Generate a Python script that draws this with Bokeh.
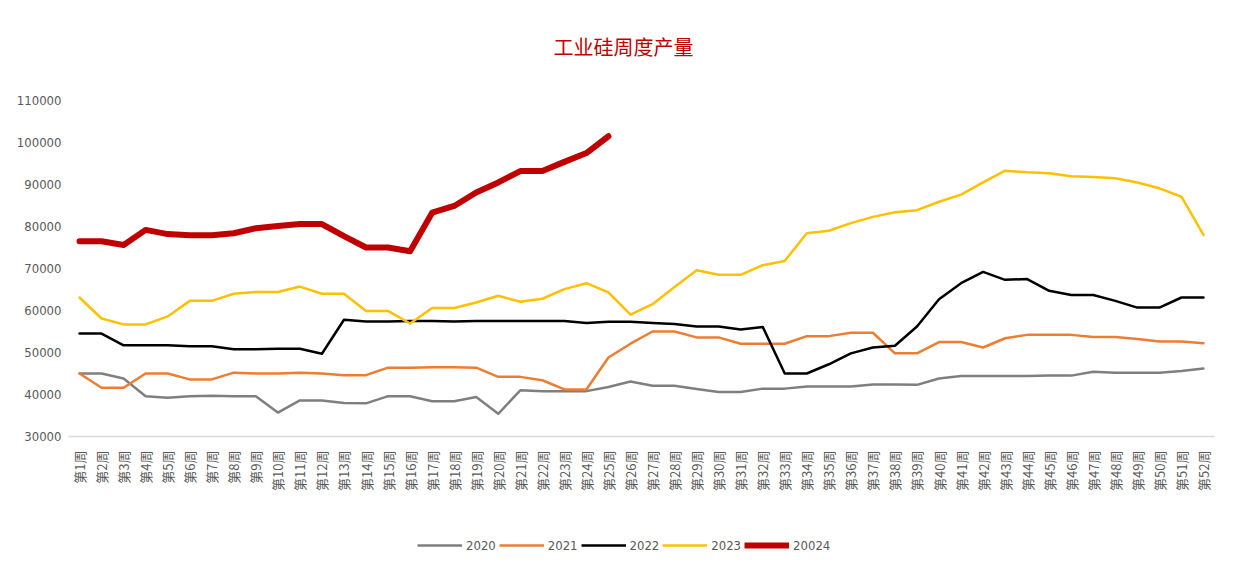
import math
from bokeh.plotting import figure
from bokeh.layouts import column
from bokeh.models import (FactorRange, Range1d, FixedTicker, Legend, LegendItem,
                          NumeralTickFormatter, Label)
from bokeh.embed import file_html
from bokeh.resources import INLINE

weeks = [f"第{i}周" for i in range(1, 53)]

y2020 = [45000, 45000, 43800, 39600, 39200, 39600, 39700, 39600, 39600, 35700,
         38600, 38600, 38000, 37900, 39600, 39600, 38400, 38400, 39400, 35400,
         41000, 40800, 40800, 40800, 41800, 43100, 42100, 42100, 41300, 40600,
         40600, 41400, 41400, 41900, 41900, 41900, 42400, 42400, 42300, 43800,
         44400, 44400, 44400, 44400, 44500, 44500, 45400, 45200, 45200, 45200,
         45600, 46200]
y2021 = [45000, 41600, 41600, 45000, 45000, 43600, 43600, 45200, 45000, 45000,
         45200, 45000, 44600, 44600, 46400, 46400, 46500, 46500, 46400, 44200,
         44200, 43400, 41200, 41200, 48800, 52100, 55000, 55000, 53600, 53600,
         52100, 52100, 52100, 53900, 53900, 54700, 54700, 49800, 49800, 52500,
         52500, 51200, 53400, 54200, 54200, 54200, 53700, 53700, 53200, 52600,
         52600, 52200]
y2022 = [54500, 54500, 51700, 51700, 51700, 51500, 51500, 50800, 50800, 50900,
         50900, 49700, 57800, 57400, 57400, 57500, 57500, 57400, 57500, 57500,
         57500, 57500, 57500, 57000, 57300, 57300, 57000, 56800, 56200, 56200,
         55500, 56100, 45000, 45000, 47200, 49800, 51200, 51600, 56200, 62700,
         66500, 69200, 67300, 67500, 64700, 63700, 63700, 62300, 60700, 60700,
         63100, 63100]
y2023 = [63100, 58100, 56700, 56700, 58600, 62300, 62300, 64000, 64400, 64400,
         65700, 64000, 64000, 59900, 59900, 56900, 60600, 60600, 61900, 63500,
         62100, 62800, 65100, 66500, 64300, 59000, 61500, 65600, 69600, 68500,
         68500, 70800, 71800, 78400, 79000, 80800, 82300, 83400, 83900, 85900,
         87600, 90500, 93300, 92900, 92700, 92000, 91800, 91500, 90500, 89100,
         87100, 78000]
y2024 = [76500, 76500, 75600, 79200, 78200, 77900, 77900, 78400, 79600, 80100,
         80600, 80600, 77700, 75000, 75000, 74100, 83300, 84900, 88100, 90500,
         93200, 93200, 95400, 97500, 101500]

series_names = ["2020", "2021", "2022", "2023", "20024"]
series_values = [y2020, y2021, y2022, y2023, y2024]
series_colors = ["#7f7f7f", "#ed7d31", "#000000", "#ffc000", "#c00000"]
series_widths = [2.5, 2.5, 2.5, 2.5, 6]
y_ticks = list(range(30000, 110001, 10000))
title_text = "工业硅周度产量"

# main chart: frame extends above the 110000 tick to host the title
p = figure(width=1219, height=505, x_range=FactorRange(*weeks, range_padding=0),
           y_range=Range1d(30000, 129300), output_backend="svg",
           toolbar_location=None, min_border_left=68, min_border_right=5,
           min_border_top=19, min_border_bottom=69)

p.outline_line_color = None
p.xgrid.grid_line_color = None
p.ygrid.grid_line_color = None

p.yaxis.ticker = FixedTicker(ticks=y_ticks)
p.yaxis.formatter = NumeralTickFormatter(format="0")
p.yaxis.axis_line_color = None
p.yaxis.major_tick_line_color = None
p.yaxis.minor_tick_line_color = None
p.yaxis.major_tick_out = 0
p.yaxis.major_tick_in = 0
p.yaxis.major_label_text_color = "#595959"
p.yaxis.major_label_text_font = "DejaVu Sans Condensed"
p.yaxis.major_label_text_font_size = "13px"
p.yaxis.major_label_standoff = 7

p.xaxis.axis_line_color = "#d9d9d9"
p.xaxis.axis_line_width = 1.5
p.xaxis.major_tick_line_color = None
p.xaxis.minor_tick_line_color = None
p.xaxis.major_label_orientation = math.pi / 2
p.xaxis.major_label_text_color = "#595959"
p.xaxis.major_label_text_font = "Noto Sans CJK SC"
p.xaxis.major_label_text_font_size = "13px"
p.xaxis.major_label_standoff = 8

for name, vals, col, w in zip(series_names, series_values, series_colors, series_widths):
    p.line(weeks[:len(vals)], vals, line_color=col, line_width=w,
           line_join="round", line_cap="round")

title = Label(x=555, y=390, x_units="screen", y_units="screen", text=title_text,
              text_align="center", text_baseline="middle", text_color="#c00000",
              text_font="Noto Sans CJK SC", text_font_size="20px")
p.add_layout(title)

# legend strip below the chart (its frame is aligned with the main chart's frame)
p2 = figure(width=1219, height=64, output_backend="svg", toolbar_location=None,
            x_axis_location=None, y_axis_location=None,
            x_range=Range1d(10, 11), y_range=Range1d(10, 11),
            min_border_left=0, min_border_right=0, min_border_top=16, min_border_bottom=0)
p2.outline_line_color = None
p2.xgrid.grid_line_color = None
p2.ygrid.grid_line_color = None
items = []
for name, col, w in zip(series_names, series_colors, series_widths):
    r = p2.line([0, 1], [0, 0], line_color=col, line_width=w)
    items.append(LegendItem(label=name, renderers=[r]))
legend = Legend(items=items, orientation="horizontal", location=(349, 14),
                glyph_width=45, glyph_height=20, label_standoff=4, spacing=3,
                padding=0, margin=0, background_fill_alpha=0, border_line_color=None,
                label_text_color="#595959", label_text_font="DejaVu Sans Condensed",
                label_text_font_size="13px")
p2.add_layout(legend, "center")

open("out.html", "w").write(file_html(column(p, p2, spacing=0), INLINE))
